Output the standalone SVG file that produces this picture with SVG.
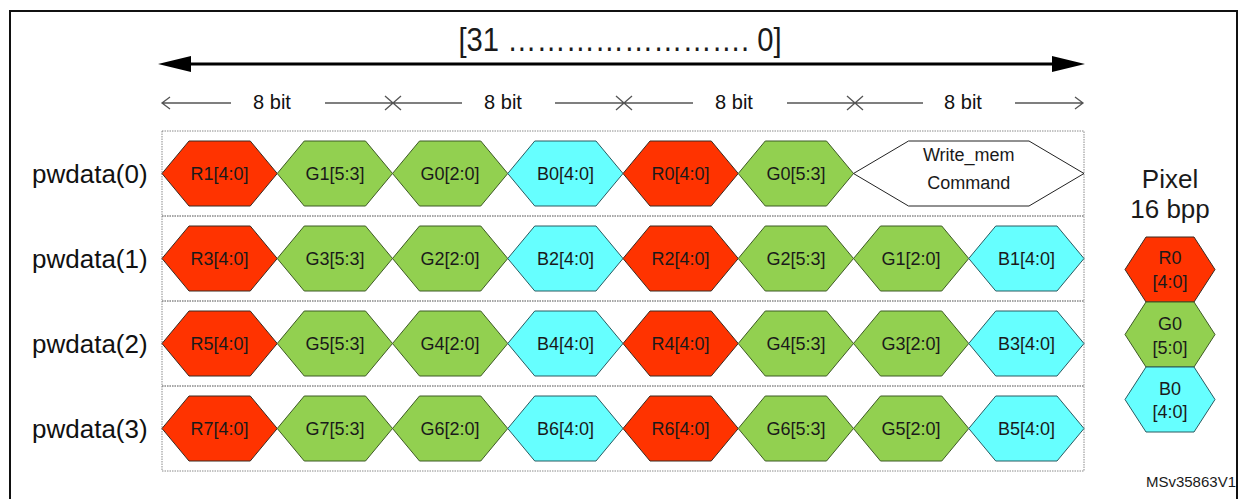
<svg xmlns="http://www.w3.org/2000/svg" xmlns:xlink="http://www.w3.org/1999/xlink" width="1238" height="499" viewBox="0 0 1238 499">
<style>
text{font-family:"Liberation Sans",Arial,sans-serif;fill:#1a1a1a}
.hl{font-size:18px;text-anchor:middle}
.lbl{font-size:26px;text-anchor:start;fill:#111}
.bit{font-size:20px;text-anchor:middle;fill:#111}
.r{fill:#ff3300;stroke:#3a2a20;stroke-width:1}
.g{fill:#92d050;stroke:#3d5a25;stroke-width:1}
.b{fill:#66ffff;stroke:#2a5a60;stroke-width:1}
.w{fill:#fff;stroke:#222;stroke-width:1}
.row{fill:none;stroke:#8a8a8a;stroke-width:1;stroke-dasharray:1.5 1}
.thin{fill:none;stroke:#555;stroke-width:1.3}
</style>
<defs>
<path id="hx" d="M0,0 L27,-32.5 L88.25,-32.5 L115.25,0 L88.25,32.5 L27,32.5 Z"/>
<path id="lhx" d="M0,0 L21,-32.5 L69,-32.5 L90,0 L69,32.5 L21,32.5 Z"/>
</defs>
<rect x="10" y="11" width="1227" height="510" fill="none" stroke="#111" stroke-width="2"/>

<g id="connectors">
<line x1="186" y1="64" x2="1057" y2="64" stroke="#000" stroke-width="3"/>
<polygon points="158,64 191,56 191,72" fill="#000"/>
<polygon points="1085,64 1052,56 1052,72" fill="#000"/>
<path class="thin" d="M162,103 H231 M170,97 L162,103 L170,109"/>
<path class="thin" d="M325,103 H462 M385,96 L401,110 M385,110 L401,96"/>
<path class="thin" d="M555,103 H693 M616,96 L632,110 M616,110 L632,96"/>
<path class="thin" d="M787,103 H923 M847,96 L863,110 M847,110 L863,96"/>
<path class="thin" d="M1015,103 H1083 M1075,97 L1083,103 L1075,109"/>
</g>

<g id="bitrange">
<text x="620" y="51" font-size="33" text-anchor="middle" textLength="323" lengthAdjust="spacingAndGlyphs" fill="#111">[31 ……………………. 0]</text>
<text class="bit" x="272" y="109">8 bit</text>
<text class="bit" x="503" y="109">8 bit</text>
<text class="bit" x="734" y="109">8 bit</text>
<text class="bit" x="963" y="109">8 bit</text>
</g>

<g id="row0">
<rect class="row" x="162" y="131" width="922" height="85"/>
<text class="lbl" x="32" y="183">pwdata(0)</text>
<use xlink:href="#hx" href="#hx" x="162" y="173.5" class="r"/><text class="hl" x="219.6" y="180">R1[4:0]</text>
<use xlink:href="#hx" href="#hx" x="277.25" y="173.5" class="g"/><text class="hl" x="334.9" y="180">G1[5:3]</text>
<use xlink:href="#hx" href="#hx" x="392.5" y="173.5" class="g"/><text class="hl" x="450.1" y="180">G0[2:0]</text>
<use xlink:href="#hx" href="#hx" x="507.75" y="173.5" class="b"/><text class="hl" x="565.4" y="180">B0[4:0]</text>
<use xlink:href="#hx" href="#hx" x="623" y="173.5" class="r"/><text class="hl" x="680.6" y="180">R0[4:0]</text>
<use xlink:href="#hx" href="#hx" x="738.25" y="173.5" class="g"/><text class="hl" x="795.9" y="180">G0[5:3]</text>
<path class="w" d="M853.5,173.5 L908.5,141 L1029,141 L1084,173.5 L1029,206 L908.5,206 Z"/>
<text class="hl" x="968.75" y="161">Write_mem</text>
<text class="hl" x="968.75" y="189">Command</text>
</g>

<g id="row1">
<rect class="row" x="162" y="216" width="922" height="85"/>
<text class="lbl" x="32" y="268">pwdata(1)</text>
<use xlink:href="#hx" href="#hx" x="162" y="258.5" class="r"/><text class="hl" x="219.6" y="265">R3[4:0]</text>
<use xlink:href="#hx" href="#hx" x="277.25" y="258.5" class="g"/><text class="hl" x="334.9" y="265">G3[5:3]</text>
<use xlink:href="#hx" href="#hx" x="392.5" y="258.5" class="g"/><text class="hl" x="450.1" y="265">G2[2:0]</text>
<use xlink:href="#hx" href="#hx" x="507.75" y="258.5" class="b"/><text class="hl" x="565.4" y="265">B2[4:0]</text>
<use xlink:href="#hx" href="#hx" x="623" y="258.5" class="r"/><text class="hl" x="680.6" y="265">R2[4:0]</text>
<use xlink:href="#hx" href="#hx" x="738.25" y="258.5" class="g"/><text class="hl" x="795.9" y="265">G2[5:3]</text>
<use xlink:href="#hx" href="#hx" x="853.5" y="258.5" class="g"/><text class="hl" x="911.1" y="265">G1[2:0]</text>
<use xlink:href="#hx" href="#hx" x="968.75" y="258.5" class="b"/><text class="hl" x="1026.4" y="265">B1[4:0]</text>
</g>

<g id="row2">
<rect class="row" x="162" y="301" width="922" height="85"/>
<text class="lbl" x="32" y="353">pwdata(2)</text>
<use xlink:href="#hx" href="#hx" x="162" y="343.5" class="r"/><text class="hl" x="219.6" y="350">R5[4:0]</text>
<use xlink:href="#hx" href="#hx" x="277.25" y="343.5" class="g"/><text class="hl" x="334.9" y="350">G5[5:3]</text>
<use xlink:href="#hx" href="#hx" x="392.5" y="343.5" class="g"/><text class="hl" x="450.1" y="350">G4[2:0]</text>
<use xlink:href="#hx" href="#hx" x="507.75" y="343.5" class="b"/><text class="hl" x="565.4" y="350">B4[4:0]</text>
<use xlink:href="#hx" href="#hx" x="623" y="343.5" class="r"/><text class="hl" x="680.6" y="350">R4[4:0]</text>
<use xlink:href="#hx" href="#hx" x="738.25" y="343.5" class="g"/><text class="hl" x="795.9" y="350">G4[5:3]</text>
<use xlink:href="#hx" href="#hx" x="853.5" y="343.5" class="g"/><text class="hl" x="911.1" y="350">G3[2:0]</text>
<use xlink:href="#hx" href="#hx" x="968.75" y="343.5" class="b"/><text class="hl" x="1026.4" y="350">B3[4:0]</text>
</g>

<g id="row3">
<rect class="row" x="162" y="386" width="922" height="85"/>
<text class="lbl" x="32" y="438">pwdata(3)</text>
<use xlink:href="#hx" href="#hx" x="162" y="428.5" class="r"/><text class="hl" x="219.6" y="435">R7[4:0]</text>
<use xlink:href="#hx" href="#hx" x="277.25" y="428.5" class="g"/><text class="hl" x="334.9" y="435">G7[5:3]</text>
<use xlink:href="#hx" href="#hx" x="392.5" y="428.5" class="g"/><text class="hl" x="450.1" y="435">G6[2:0]</text>
<use xlink:href="#hx" href="#hx" x="507.75" y="428.5" class="b"/><text class="hl" x="565.4" y="435">B6[4:0]</text>
<use xlink:href="#hx" href="#hx" x="623" y="428.5" class="r"/><text class="hl" x="680.6" y="435">R6[4:0]</text>
<use xlink:href="#hx" href="#hx" x="738.25" y="428.5" class="g"/><text class="hl" x="795.9" y="435">G6[5:3]</text>
<use xlink:href="#hx" href="#hx" x="853.5" y="428.5" class="g"/><text class="hl" x="911.1" y="435">G5[2:0]</text>
<use xlink:href="#hx" href="#hx" x="968.75" y="428.5" class="b"/><text class="hl" x="1026.4" y="435">B5[4:0]</text>
</g>

<g id="legend">
<text x="1170" y="188" font-size="26" text-anchor="middle" fill="#111">Pixel</text>
<text x="1170" y="218" font-size="26" text-anchor="middle" fill="#111">16 bpp</text>
<use xlink:href="#lhx" href="#lhx" x="1125" y="269.5" class="r"/>
<text class="hl" x="1170" y="264">R0</text><text class="hl" x="1170" y="288">[4:0]</text>
<use xlink:href="#lhx" href="#lhx" x="1125" y="334.5" class="g"/>
<text class="hl" x="1170" y="330">G0</text><text class="hl" x="1170" y="354">[5:0]</text>
<use xlink:href="#lhx" href="#lhx" x="1125" y="399.5" class="b"/>
<text class="hl" x="1170" y="395">B0</text><text class="hl" x="1170" y="418">[4:0]</text>
</g>

<text x="1236" y="487" font-size="15" text-anchor="end" fill="#111">MSv35863V1</text>
</svg>
